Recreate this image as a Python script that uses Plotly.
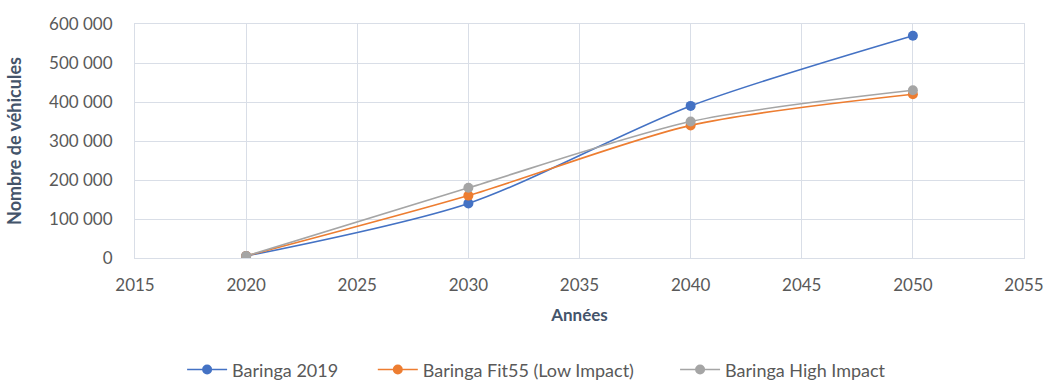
import plotly.graph_objects as go

years = [2020, 2030, 2040, 2050]
baringa_2019 = [5000, 140000, 390000, 570000]
baringa_fit55 = [5000, 160000, 340000, 420000]
baringa_high = [5000, 180000, 350000, 430000]

series = [
    ("Baringa 2019", baringa_2019, "#4472C4", "legend"),
    ("Baringa Fit55 (Low Impact)", baringa_fit55, "#ED7D31", "legend2"),
    ("Baringa High Impact", baringa_high, "#A5A5A5", "legend3"),
]

fig = go.Figure()
for name, vals, color, leg in series:
    fig.add_trace(go.Scatter(
        x=years, y=vals, name=name, mode="lines+markers",
        line=dict(color=color, width=1.6, shape="spline", smoothing=0.8),
        marker=dict(color=color, size=10),
        legend=leg,
    ))

grid = "#D9DEE7"
legend_style = dict(orientation="h", xanchor="left", y=-0.478, yanchor="middle",
                    font=dict(size=18, color="#595959"), itemwidth=40,
                    bgcolor="rgba(0,0,0,0)")

fig.update_layout(
    width=1049, height=382,
    margin=dict(l=135, r=25, t=24, b=124, autoexpand=False),
    paper_bgcolor="white", plot_bgcolor="white",
    separators=", ",
    font=dict(family="Lato, Open Sans, sans-serif", size=17, color="#595959"),
    showlegend=True,
    legend=dict(x=0.053, **legend_style),
    legend2=dict(x=0.2675, **legend_style),
    legend3=dict(x=0.6075, **legend_style),
    xaxis=dict(
        range=[2015, 2055], tickmode="linear", tick0=2015, dtick=5,
        showgrid=True, gridcolor=grid, gridwidth=1, zeroline=False,
        showline=True, linecolor=grid, mirror=True,
        ticks="outside", ticklen=12, tickcolor="rgba(0,0,0,0)",
        tickfont=dict(size=17, color="#595959"),
        title=dict(text="<b>Années</b>", font=dict(size=17, color="#44546A"), standoff=14),
    ),
    yaxis=dict(
        range=[0, 600000], tickmode="linear", tick0=0, dtick=100000,
        tickformat=",d",
        showgrid=True, gridcolor=grid, gridwidth=1, zeroline=False,
        showline=True, linecolor=grid, mirror=True,
        ticks="outside", ticklen=18, tickcolor="rgba(0,0,0,0)",
        tickfont=dict(size=17, color="#595959"),
        title=dict(text="<b>Nombre de véhicules</b>", font=dict(size=18, color="#44546A"), standoff=22),
    ),
)

fig.write_html("out.html")
